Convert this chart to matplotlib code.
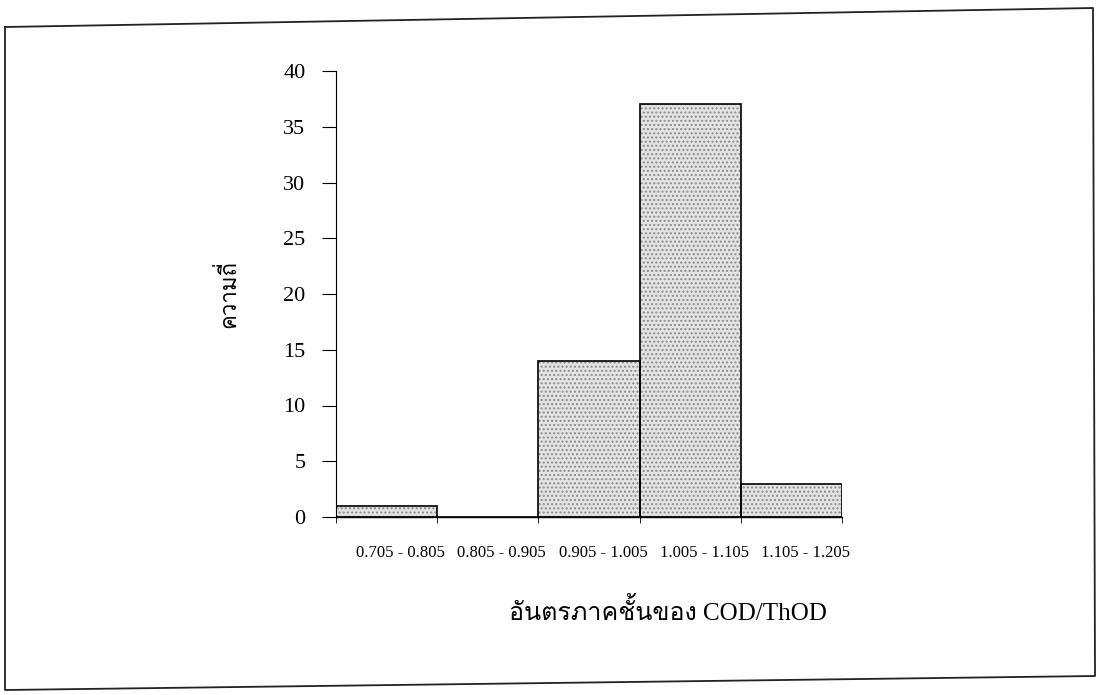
import matplotlib
matplotlib.use("Agg")
import matplotlib.pyplot as plt
from matplotlib import font_manager
from matplotlib.ft2font import FT2Font
from matplotlib.lines import Line2D
from matplotlib.transforms import ScaledTranslation

# histogram data: class intervals of COD/ThOD and their counts
classes = ["0.705 - 0.805", "0.805 - 0.905", "0.905 - 1.005",
           "1.005 - 1.105", "1.105 - 1.205"]
counts = [1, 0, 14, 37, 3]
y_ticks = [0, 5, 10, 15, 20, 25, 30, 35, 40]

x_title = "อันตรภาคชั้นของ COD/ThOD"
y_title = "ความถี่"


def find_thai_font():
    # look for any installed font that actually has Thai glyphs
    for f in font_manager.fontManager.ttflist:
        try:
            cmap = FT2Font(f.fname).get_charmap()
        except Exception:
            continue
        if 0x0E01 in cmap and 0x0E35 in cmap:
            return f.name
    return None


thai = find_thai_font()
serif = ["Liberation Serif", "DejaVu Serif"]
# serif first so latin text stays Times-like, Thai falls through
thai_family = ["Liberation Serif"] + ([thai] if thai else []) + ["DejaVu Serif"]

fig = plt.figure(figsize=(10.96, 6.95), dpi=100)
ax = fig.add_axes([336 / 1096, 1 - 517 / 695, 506 / 1096, 446 / 695])

pos = list(range(len(counts)))
ax.bar(pos, counts, width=1.0, align="edge", color="#e4e4e4",
       edgecolor="#8a8a8a", hatch="....", linewidth=0, zorder=2)
ax.bar(pos, counts, width=1.0, align="edge", fill=False,
       edgecolor="black", linewidth=1.2, zorder=3)

ax.set_xlim(0, len(counts))
ax.set_ylim(0, 40)
ax.set_yticks(y_ticks)
ax.set_yticklabels([str(v) for v in y_ticks], family=serif, fontsize=16)
ax.tick_params(axis="y", length=10, width=0.8, pad=12)

ax.set_xticks([p + 0.5 for p in pos])
ax.set_xticklabels(classes, family=serif, fontsize=12)
ax.set_xticks(range(len(counts) + 1), minor=True)
ax.tick_params(axis="x", which="major", length=0, pad=20)
ax.tick_params(axis="x", which="minor", length=4, width=0.6)
shift = ScaledTranslation(14 / 100, 0, fig.dpi_scale_trans)
for lab in ax.get_xticklabels():
    lab.set_transform(lab.get_transform() + shift)

for s in ["top", "right"]:
    ax.spines[s].set_visible(False)
ax.spines["left"].set_linewidth(0.8)
ax.spines["bottom"].set_linewidth(1.0)

fig.text(228 / 1096, 1 - 294 / 695, y_title, rotation=90, ha="center",
         va="center", family=thai_family, fontsize=16)
fig.text(668 / 1096, 1 - 612 / 695, x_title, ha="center", va="center",
         family=thai_family, fontsize=18)

# scanned page frame (slightly skewed)
W, H = 1096, 695
corners = [(5, 27), (1093, 8), (1095, 676), (5, 690), (5, 27)]
fig.add_artist(Line2D([c[0] / W for c in corners],
                      [1 - c[1] / H for c in corners],
                      color="#222222", linewidth=1.3))

fig.savefig("out.png", dpi=100)
